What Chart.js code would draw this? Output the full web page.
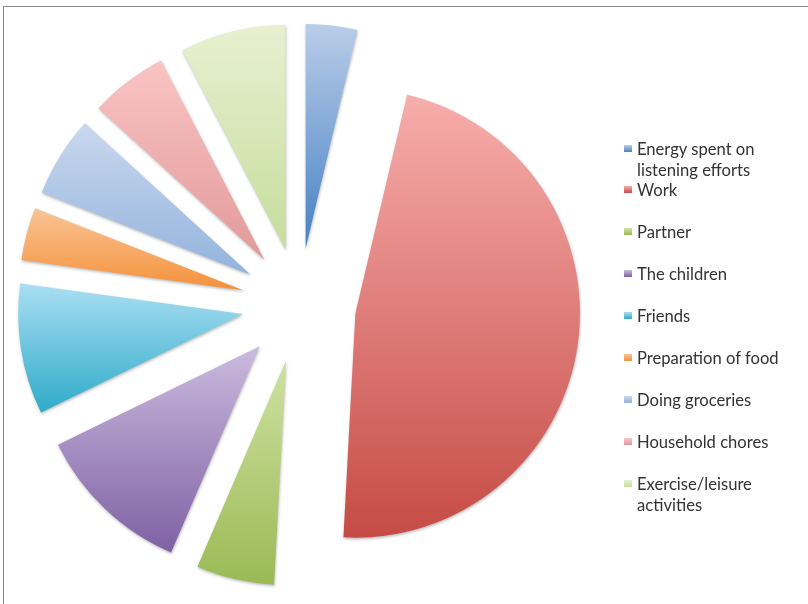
<!DOCTYPE html>
<html>
<head>
<meta charset="utf-8">
<script src="https://cdn.jsdelivr.net/npm/chart.js@4.4.1/dist/chart.umd.min.js"></script>
<style>
  html, body { margin: 0; padding: 0; background: #fff; }
  #wrap { position: relative; width: 808px; height: 604px; overflow: hidden; }
  #frame { position: absolute; left: 3px; top: 6px; width: 820px; height: 620px;
           border-left: 1px solid #8a8a8a; border-top: 1px solid #8a8a8a; }
  #pie { position: absolute; left: 0; top: 0; }
  #legend { position: absolute; left: 624px; top: 139px; width: 180px;
            font-family: Lato, "Open Sans", sans-serif; font-size: 16.6px; line-height: 20.5px; color: #333; }
  .item { position: relative; padding-left: 13px; width: 160px; }
  .item + .item { margin-top: 21.5px; }
  .item.tight { margin-top: 0 !important; }
  .swatch { position: absolute; left: 0; top: 6px; width: 8px; height: 7px; }
</style>
</head>
<body>
<div id="wrap">
  <div id="frame"></div>
  <canvas id="pie" width="808" height="604"></canvas>
  <div id="legend"></div>
</div>
<script>
// data
const categories = ['Energy spent on listening efforts', 'Work', 'Partner', 'The children', 'Friends',
  'Preparation of food', 'Doing groceries', 'Household chores', 'Exercise/leisure activities'];
const shares = [3.7, 47.1, 5.6, 11.3, 9.4, 3.8, 5.8, 5.6, 7.6];

// gradient ends per slice: light at the top, full colour at the bottom
const lightColors = ['#bacde8', '#f7aeac', '#cfe1a2', '#cbbbdf', '#aadff3', '#fac497', '#c9d8ee', '#fac4c4', '#e8f0d0'];
const darkColors  = ['#4581c4', '#c64b46', '#9aba55', '#7e61a4', '#2eabc8', '#f49139', '#93b3dd', '#e19a99', '#c5dd9c'];

const EXPLODE = 57; // px each slice is pushed out from the centre

function ySpan(arc) {
  const {x, y, startAngle, endAngle, outerRadius} = arc;
  const ys = [y, y + Math.sin(startAngle) * outerRadius, y + Math.sin(endAngle) * outerRadius];
  [-Math.PI / 2, Math.PI / 2, 3 * Math.PI / 2].forEach(a => {
    if (a > startAngle && a < endAngle) ys.push(y + Math.sin(a) * outerRadius);
  });
  return [Math.min(...ys), Math.max(...ys)];
}

// pushes every slice out along its mid angle and fills it with a vertical gradient
const explodedSlices = {
  id: 'explodedSlices',
  beforeDatasetsDraw(chart) {
    const meta = chart.getDatasetMeta(0);
    meta.data.forEach((arc, i) => {
      if (arc._patched) return;
      const baseDraw = arc.draw;
      arc.draw = function(ctx, area) {
        const mid = (this.startAngle + this.endAngle) / 2;
        const [top, bottom] = ySpan(this);
        const grad = ctx.createLinearGradient(0, top, 0, bottom);
        grad.addColorStop(0, lightColors[i]);
        grad.addColorStop(1, darkColors[i]);
        this.options.backgroundColor = grad;
        ctx.save();
        ctx.translate(Math.cos(mid) * EXPLODE, Math.sin(mid) * EXPLODE);
        ctx.shadowColor = 'rgba(0,0,0,0.28)';
        ctx.shadowBlur = 3;
        ctx.shadowOffsetX = 0.5;
        ctx.shadowOffsetY = 1.5;
        baseDraw.call(this, ctx, area);
        ctx.restore();
      };
      arc._patched = true;
    });
  }
};

const pie = new Chart(document.getElementById('pie'), {
  type: 'pie',
  data: {
    labels: categories,
    datasets: [{
      data: shares,
      backgroundColor: darkColors,
      borderWidth: 0,
      radius: 224.5
    }]
  },
  options: {
    responsive: false,
    animation: false,
    events: [],
    layout: { padding: { left: 0, right: 210, top: 6, bottom: 0 } },
    plugins: {
      legend: { display: false },
      tooltip: { enabled: false }
    }
  },
  plugins: [explodedSlices]
});

// legend
const legend = document.getElementById('legend');
categories.forEach((name, i) => {
  const item = document.createElement('div');
  item.className = 'item' + (i === 1 ? ' tight' : '');
  const sw = document.createElement('span');
  sw.className = 'swatch';
  sw.style.background = 'linear-gradient(' + lightColors[i] + ',' + darkColors[i] + ')';
  item.appendChild(sw);
  item.appendChild(document.createTextNode(name));
  legend.appendChild(item);
});
</script>
</body>
</html>
